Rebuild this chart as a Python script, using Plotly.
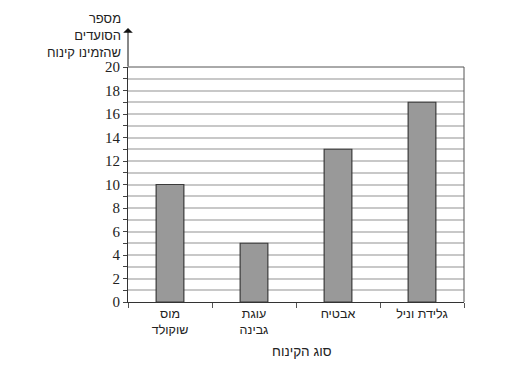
import plotly.graph_objects as go

categories = ["מוס<br>שוקולד", "עוגת<br>גבינה", "אבטיח", "גלידת וניל"]
values = [10, 5, 13, 17]
y_ticks = [0, 2, 4, 6, 8, 10, 12, 14, 16, 18, 20]
y_title = "מספר<br>הסועדים<br>שהזמינו קינוח"
x_title = "סוג הקינוח"

fig = go.Figure()
fig.add_trace(go.Bar(
    x=categories, y=values, width=0.33,
    marker=dict(color="#999999", line=dict(color="#3a3a3a", width=1.2)),
))

fig.update_layout(
    width=498, height=368,
    margin=dict(l=120, r=42, t=59, b=74),
    paper_bgcolor="white", plot_bgcolor="white",
    showlegend=False,
    font=dict(family="Liberation Sans", size=13, color="#222"),
)
fig.update_xaxes(
    type="category", showgrid=False, showline=True, linecolor="#333", linewidth=1,
    ticks="outside", tickson="boundaries", ticklen=5, tickcolor="#555",
    tickfont=dict(family="Liberation Sans", size=12.5, color="#222"),
    zeroline=False, automargin=False,
)
fig.update_yaxes(
    range=[0, 20], tickvals=y_ticks, showline=True, linecolor="#333", linewidth=1,
    ticks="outside", ticklen=4, tickcolor="#444",
    tickfont=dict(family="Times New Roman, Liberation Serif, serif", size=15, color="#222"),
    showgrid=True, gridcolor="#c8c8c8", gridwidth=1.5,
    minor=dict(dtick=1, showgrid=True, gridcolor="#c8c8c8", gridwidth=1.5,
               ticks="outside", ticklen=4, tickcolor="#444"),
    zeroline=False, automargin=False,
)
# frame top and right
fig.add_shape(type="line", xref="paper", yref="paper", x0=0, x1=1, y0=1, y1=1,
              line=dict(color="#555", width=1))
fig.add_shape(type="line", xref="paper", yref="paper", x0=1, x1=1, y0=0, y1=1,
              line=dict(color="#555", width=1))
# arrow on y axis
fig.add_annotation(xref="paper", yref="paper", x=0, y=(302 - 28) / 235, ax=0, ay=40,
                   text="", showarrow=True, arrowhead=1, arrowsize=1.6, arrowwidth=1,
                   arrowcolor="#111")
fig.add_annotation(xref="paper", yref="paper", x=-0.015, y=(302 - 9) / 235,
                   xanchor="right", yanchor="top", align="right", showarrow=False,
                   text=y_title, font=dict(family="Liberation Sans", size=13, color="#222"))
fig.add_annotation(xref="paper", yref="paper", x=(302 - 128) / 336, y=(302 - 351) / 235,
                   xanchor="center", yanchor="middle", showarrow=False,
                   text=x_title, font=dict(family="Liberation Sans", size=13.5, color="#222"))

fig.write_html("out.html")
